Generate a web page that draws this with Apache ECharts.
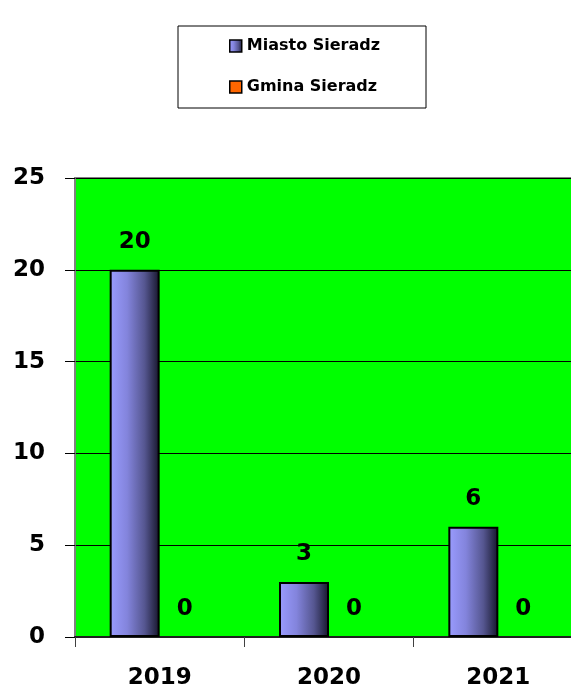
<!DOCTYPE html>
<html><head><meta charset="utf-8">
<script src="https://cdn.jsdelivr.net/npm/echarts@6/dist/echarts.min.js"></script>
<style>html,body{margin:0;padding:0;background:#fff;overflow:hidden;width:571px;height:691px}#c{width:600px;height:691px}</style>
</head><body><div id="c"></div>
<script>
var categories = ['2019', '2020', '2021'];
var seriesNames = ['Miasto Sieradz', 'Gmina Sieradz'];
var miastoValues = [20, 3, 6];
var gminaValues = [0, 0, 0];
var yTicks = [0, 5, 10, 15, 20, 25];

var FONT = 'DejaVu Sans';
var barGrad = new echarts.graphic.LinearGradient(0, 0, 1, 0, [
  {offset: 0, color: '#9a9cff'},
  {offset: 0.35, color: '#8384dc'},
  {offset: 0.7, color: '#555690'},
  {offset: 1, color: '#15152a'}
]);
var chart = echarts.init(document.getElementById('c'), null, {renderer: 'canvas'});
chart.setOption({
  animation: false,
  backgroundColor: '#ffffff',
  legend: {
    orient: 'vertical',
    left: 178, top: 26,
    padding: [12, 46, 13, 51],
    itemGap: 25,
    itemWidth: 12, itemHeight: 12,
    backgroundColor: '#ffffff',
    borderColor: '#000000', borderWidth: 1,
    textStyle: {fontFamily: FONT, fontWeight: 'bold', fontSize: 16, color: '#000'},
    data: [
      {name: seriesNames[0], icon: 'rect', itemStyle: {color: barGrad, borderColor: '#000', borderWidth: 1.5}},
      {name: seriesNames[1], icon: 'rect', itemStyle: {color: '#ff6600', borderColor: '#000', borderWidth: 1.5}}
    ]
  },
  grid: {left: 75, top: 178, width: 508, height: 459, backgroundColor: '#00ff00', show: true, borderColor: '#808080', borderWidth: 2},
  xAxis: {
    type: 'category',
    data: categories,
    boundaryGap: true,
    axisLine: {show: true, lineStyle: {color: '#202020', width: 2}},
    axisTick: {show: true, length: 10, lineStyle: {color: '#404040'}},
    axisLabel: {margin: 30, fontFamily: FONT, fontWeight: 'bold', fontSize: 23, color: '#000'}
  },
  yAxis: {
    type: 'value',
    min: yTicks[0], max: yTicks[yTicks.length - 1], interval: 5,
    axisLine: {show: true, lineStyle: {color: '#808080', width: 1.5}},
    axisTick: {show: true, length: 10, lineStyle: {color: '#000'}},
    splitLine: {show: true, lineStyle: {color: '#000', width: 1}},
    axisLabel: {margin: 30, fontFamily: FONT, fontWeight: 'bold', fontSize: 23, color: '#000'}
  },
  series: [
    {
      name: seriesNames[0], type: 'bar', data: miastoValues,
      barWidth: 50, barGap: '0%',
      itemStyle: {color: barGrad, borderColor: '#000', borderWidth: 2},
      label: {show: true, position: 'top', distance: 16, fontFamily: FONT, fontWeight: 'bold', fontSize: 23, color: '#000'}
    },
    {
      name: seriesNames[1], type: 'bar', data: gminaValues,
      barWidth: 50,
      itemStyle: {color: '#ff6600', borderWidth: 0},
      label: {show: true, position: 'top', distance: 16, fontFamily: FONT, fontWeight: 'bold', fontSize: 23, color: '#000'}
    }
  ]
});
</script></body></html>
